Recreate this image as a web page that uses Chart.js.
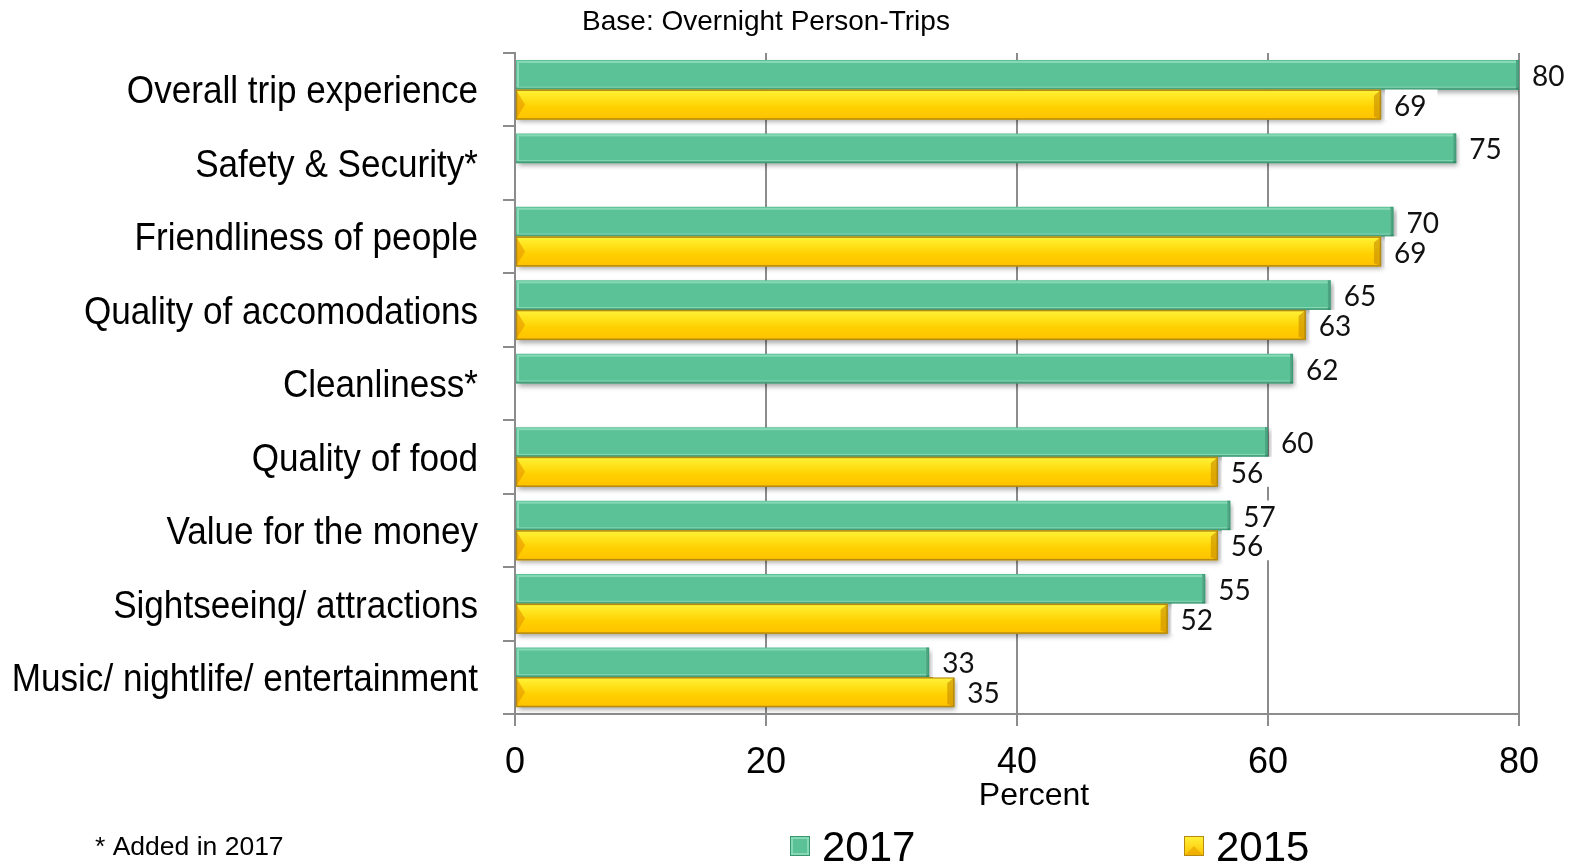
<!DOCTYPE html>
<html>
<head>
<meta charset="utf-8">
<script src="https://cdn.jsdelivr.net/npm/chart.js@4/dist/chart.umd.min.js"></script>
<style>
  html, body { margin: 0; padding: 0; background: #fff; }
  #wrap { width: 1572px; height: 865px; }
</style>
</head>
<body>
<div id="wrap"><canvas id="myChart"></canvas></div>
<script>
// ratings, percent of overnight person-trips
var categories = [
  "Overall trip experience",
  "Safety & Security*",
  "Friendliness of people",
  "Quality of accomodations",
  "Cleanliness*",
  "Quality of food",
  "Value for the money",
  "Sightseeing/ attractions",
  "Music/ nightlife/ entertainment"
];
var values2017 = [80, 75, 70, 65, 62, 60, 57, 55, 33];
var values2015 = [69, null, 69, 63, null, 56, 56, 52, 35];
var xTicks = [0, 20, 40, 60, 80];

var green = "#5BC298";
var gold = "#FFCC00";
var plainFont = "'Liberation Sans', Arial, sans-serif";
var valueFont = "Lato, 'DejaVu Sans', sans-serif";

// drop shadow under the bars, bevel overlay, value boxes
var barStyle = {
  id: "barStyle",
  beforeDatasetsDraw: function(chart) {
    var ctx = chart.ctx;
    ctx.save();
    ctx.shadowColor = "rgba(0,0,0,0.35)";
    ctx.shadowBlur = 5;
    ctx.shadowOffsetX = 2;
    ctx.shadowOffsetY = 3;
  },
  afterDatasetsDraw: function(chart) {
    var ctx = chart.ctx;
    ctx.restore();

    chart.data.datasets.forEach(function(ds, i) {
      var meta = chart.getDatasetMeta(i);
      meta.data.forEach(function(bar, j) {
        if (ds.data[j] == null) return;
        var left = bar.base, right = bar.x;
        var top = bar.y - bar.height / 2, bottom = bar.y + bar.height / 2;
        var h = bottom - top;
        ctx.save();
        if (i === 1) {
          var g = ctx.createLinearGradient(0, top, 0, bottom);
          g.addColorStop(0, "#FFF23A");
          g.addColorStop(0.3, "#FFE21A");
          g.addColorStop(0.6, "#FFCF00");
          g.addColorStop(1, "#FFC200");
          ctx.fillStyle = g;
          ctx.fillRect(left, top, right - left, h);
          // bevelled ends
          ctx.fillStyle = "rgba(230,150,0,0.6)";
          ctx.beginPath();
          ctx.moveTo(left, top);
          ctx.lineTo(left + 9, top + h / 2);
          ctx.lineTo(left, bottom);
          ctx.fill();
          ctx.fillStyle = "rgba(200,140,0,0.6)";
          ctx.beginPath();
          ctx.moveTo(right, top);
          ctx.lineTo(right - 7, top + 6);
          ctx.lineTo(right - 7, bottom - 3);
          ctx.lineTo(right, bottom);
          ctx.fill();
          ctx.strokeStyle = "#B48A10";
          ctx.lineWidth = 1.5;
          ctx.strokeRect(left + 0.5, top + 0.5, right - left - 1, h - 1);
        } else {
          ctx.strokeStyle = "rgba(140,220,185,0.9)";
          ctx.lineWidth = 2;
          ctx.strokeRect(left + 2, top + 2, right - left - 4, h - 4);
          ctx.fillStyle = "rgba(40,130,95,0.6)";
          ctx.fillRect(right - 3, top, 3, h);
          ctx.fillRect(left, bottom - 2, right - left, 2);
        }
        ctx.restore();
      });
    });

    // value boxes to the right of each bar
    ctx.save();
    ctx.font = "28px " + valueFont;
    ctx.textBaseline = "middle";
    chart.data.datasets.forEach(function(ds, i) {
      var meta = chart.getDatasetMeta(i);
      meta.data.forEach(function(bar, j) {
        var v = ds.data[j];
        if (v == null) return;
        var txt = String(v);
        var w = ctx.measureText(txt).width;
        var bx = bar.x + 4;
        ctx.fillStyle = "#fff";
        ctx.fillRect(bx, bar.y - 15, w + 20, 30);
        ctx.fillStyle = "#111";
        ctx.fillText(txt, bx + 9, bar.y + 2);
      });
    });
    ctx.restore();
  }
};

// category names in a condensed face, next to the y scale
var catLabels = {
  id: "catLabels",
  afterDraw: function(chart) {
    var ctx = chart.ctx;
    var y = chart.scales.y;
    var sx = 0.9;
    ctx.save();
    ctx.fillStyle = "#000";
    ctx.font = "39px " + plainFont;
    ctx.textAlign = "right";
    ctx.textBaseline = "middle";
    categories.forEach(function(name, i) {
      var py = y.getPixelForValue(i);
      ctx.save();
      ctx.translate(478, py + 3);
      ctx.scale(sx, 1);
      ctx.fillText(name, 0, 0);
      ctx.restore();
    });
    ctx.restore();
  }
};

// title, axis caption, footnote and legend
var extras = {
  id: "extras",
  afterDraw: function(chart) {
    var ctx = chart.ctx;
    ctx.save();
    ctx.fillStyle = "#000";
    ctx.textBaseline = "middle";

    ctx.font = "28px " + plainFont;
    ctx.textAlign = "center";
    ctx.fillText("Base: Overnight Person-Trips", 766, 22);

    ctx.font = "32px " + plainFont;
    ctx.fillText("Percent", 1034, 796);

    ctx.textAlign = "left";
    ctx.font = "26.5px " + plainFont;
    ctx.fillText("* Added in 2017", 95, 848);

    var items = [
      { text: "2017", x: 790, kind: 0 },
      { text: "2015", x: 1184, kind: 1 }
    ];
    ctx.font = "42px " + plainFont;
    items.forEach(function(it) {
      var s = 20, y0 = 836;
      if (it.kind === 0) {
        ctx.fillStyle = green;
        ctx.fillRect(it.x, y0, s, s);
        ctx.strokeStyle = "rgba(140,220,185,0.9)";
        ctx.lineWidth = 2;
        ctx.strokeRect(it.x + 2, y0 + 2, s - 4, s - 4);
        ctx.strokeStyle = "rgba(40,130,95,0.7)";
        ctx.lineWidth = 1;
        ctx.strokeRect(it.x + 0.5, y0 + 0.5, s - 1, s - 1);
      } else {
        var g = ctx.createLinearGradient(0, y0, 0, y0 + s);
        g.addColorStop(0, "#FFF23A");
        g.addColorStop(1, "#FFC200");
        ctx.fillStyle = g;
        ctx.fillRect(it.x, y0, s, s);
        ctx.fillStyle = "rgba(230,160,0,0.6)";
        ctx.beginPath();
        ctx.moveTo(it.x, y0 + s);
        ctx.lineTo(it.x + s / 2, y0 + s / 2);
        ctx.lineTo(it.x + s, y0 + s);
        ctx.fill();
        ctx.strokeStyle = "#B48A10";
        ctx.lineWidth = 1;
        ctx.strokeRect(it.x + 0.5, y0 + 0.5, s - 1, s - 1);
      }
      ctx.fillStyle = "#000";
      ctx.fillText(it.text, it.x + 32, y0 + s / 2 + 3);
    });
    ctx.restore();
  }
};

var data = {
  labels: categories,
  datasets: [
    {
      label: "2017",
      data: values2017,
      backgroundColor: green,
      borderWidth: 0,
      categoryPercentage: 0.81,
      barPercentage: 1.0
    },
    {
      label: "2015",
      data: values2015,
      backgroundColor: gold,
      borderWidth: 0,
      categoryPercentage: 0.81,
      barPercentage: 1.0
    }
  ]
};

var myChart = new Chart(document.getElementById("myChart"), {
  type: "bar",
  data: data,
  options: {
    indexAxis: "y",
    responsive: true,
    maintainAspectRatio: false,
    animation: false,
    layout: { padding: { left: 0, right: 53, top: 53, bottom: 0 } },
    plugins: {
      legend: { display: false },
      tooltip: { enabled: false }
    },
    scales: {
      x: {
        min: 0,
        max: 80,
        afterBuildTicks: function(scale) {
          scale.ticks = xTicks.map(function(v) { return { value: v }; });
        },
        afterFit: function(scale) { scale.height = 151; },
        grid: {
          color: "#8C8C8C",
          lineWidth: 2,
          tickLength: 12,
          drawTicks: true
        },
        border: { color: "#8C8C8C", width: 2 },
        ticks: {
          color: "#000",
          padding: 15,
          font: { family: plainFont, size: 36 }
        }
      },
      y: {
        afterFit: function(scale) { scale.width = 515; },
        grid: {
          drawOnChartArea: false,
          color: "#8C8C8C",
          lineWidth: 2,
          tickLength: 12
        },
        border: { color: "#8C8C8C", width: 2 },
        ticks: {
          // names are painted by catLabels
          color: "rgba(0,0,0,0)",
          padding: 26,
          font: { family: plainFont, size: 38 }
        }
      }
    }
  },
  plugins: [barStyle, catLabels, extras]
});
</script>
</body>
</html>
